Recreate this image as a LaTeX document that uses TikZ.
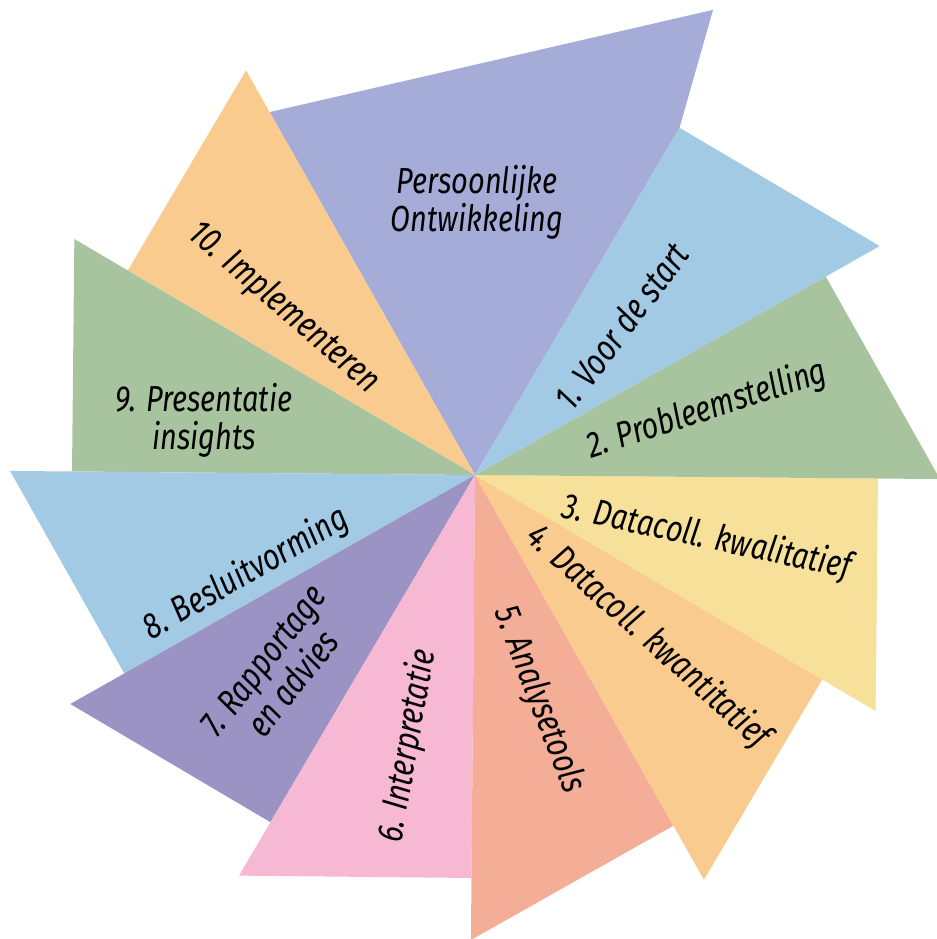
\documentclass[tikz,border=0pt]{standalone}
\usepackage{fontspec}
\setmainfont{Fira Sans}[FakeStretch=0.8]
\usetikzlibrary{calc}
\definecolor{paars}{RGB}{165,172,216}
\definecolor{lblauw}{RGB}{163,202,228}
\definecolor{groen}{RGB}{168,196,159}
\definecolor{geel}{RGB}{246,224,154}
\definecolor{oranje}{RGB}{250,203,143}
\definecolor{zalm}{RGB}{244,174,152}
\definecolor{roze}{RGB}{246,184,211}
\definecolor{lila}{RGB}{156,147,197}

\begin{document}
\begin{tikzpicture}[line join=round, line cap=round,
	lbl/.style={font=\fontsize{20.6}{21.6}\selectfont\itshape, align=center, inner sep=0pt}]

			\useasboundingbox (-9.5,-9.28) rectangle (9.24,9.5);

			\coordinate (O) at (0,0);

			\coordinate (P1) at (119.5:8.34);
			\coordinate (P2) at (62.9:10.45);

			\coordinate (A1) at (59.5:8.06);   \coordinate (B1) at (29.5:9.3);
			\coordinate (A2) at (29.5:8.06);   \coordinate (B2) at (-0.5:9.3);
			\coordinate (A3) at (-0.5:8.06);   \coordinate (B3) at (-30.5:9.3);
			\coordinate (A4) at (-30.5:8.06);  \coordinate (B4) at (-60.5:9.3);
			\coordinate (A5) at (-60.5:8.06);  \coordinate (B5) at (-90.5:9.3);
			\coordinate (A6) at (-90.5:8.06);  \coordinate (B6) at (-120.5:9.3);
			\coordinate (A7) at (-120.5:8.06); \coordinate (B7) at (-150.5:9.3);
			\coordinate (A8) at (-150.5:8.06); \coordinate (B8) at (-180.5:9.3);
			\coordinate (A9) at (179.5:8.06);  \coordinate (B9) at (149.5:9.3);
			\coordinate (A10) at (149.5:8.06); \coordinate (B10) at (119.5:9.3);

			\fill[paars] (O)--(P1)--(P2)--(A1)--cycle;

			\fill[oranje] (O)--(A10)--(B10)--cycle;
			\fill[groen] (O)--(A9)--(B9)--cycle;
			\fill[lblauw] (O)--(A8)--(B8)--cycle;
			\fill[lila] (O)--(A7)--(B7)--cycle;
			\fill[roze] (O)--(A6)--(B6)--cycle;
			\fill[zalm] (O)--(A5)--(B5)--cycle;
			\fill[oranje] (O)--(A4)--(B4)--cycle;
			\fill[geel] (O)--(A3)--(B3)--cycle;
			\fill[groen] (O)--(A2)--(B2)--cycle;
			\fill[lblauw] (O)--(A1)--(B1)--cycle;

			\node[lbl] (T0) at (0.04,5.46) {Persoonlijke\\Ontwikkeling};
			\node[lbl, rotate=53] (T1) at (2.92,2.98) {1. Voor de start};
			\node[lbl, rotate=18] (T2) at (4.64,1.30) {2. Probleemstelling};
			\node[lbl, rotate=-12] (T3) at (4.64,-1.26) {3. Datacoll. kwalitatief};
			\node[lbl, rotate=-42] (T4) at (3.46,-3.24) {4. Datacoll. kwantitatief};
			\node[lbl, rotate=-69] (T5) at (1.28,-4.50) {5. Analysetools};
			\node[lbl, rotate=80] (T6) at (-1.34,-5.42) {6. Interpretatie};
			\node[lbl, rotate=52] (T7) at (-3.94,-3.94) {7. Rapportage\\en advies};
			\node[lbl, rotate=30] (T8) at (-4.58,-1.98) {8. Besluitvorming};
			\node[lbl] (T9) at (-5.42,1.10) {9. Presentatie\\insights};
			\node[lbl, rotate=-41] (T10) at (-3.82,3.34) {10. Implementeren};

	\end{tikzpicture}
\end{document}
